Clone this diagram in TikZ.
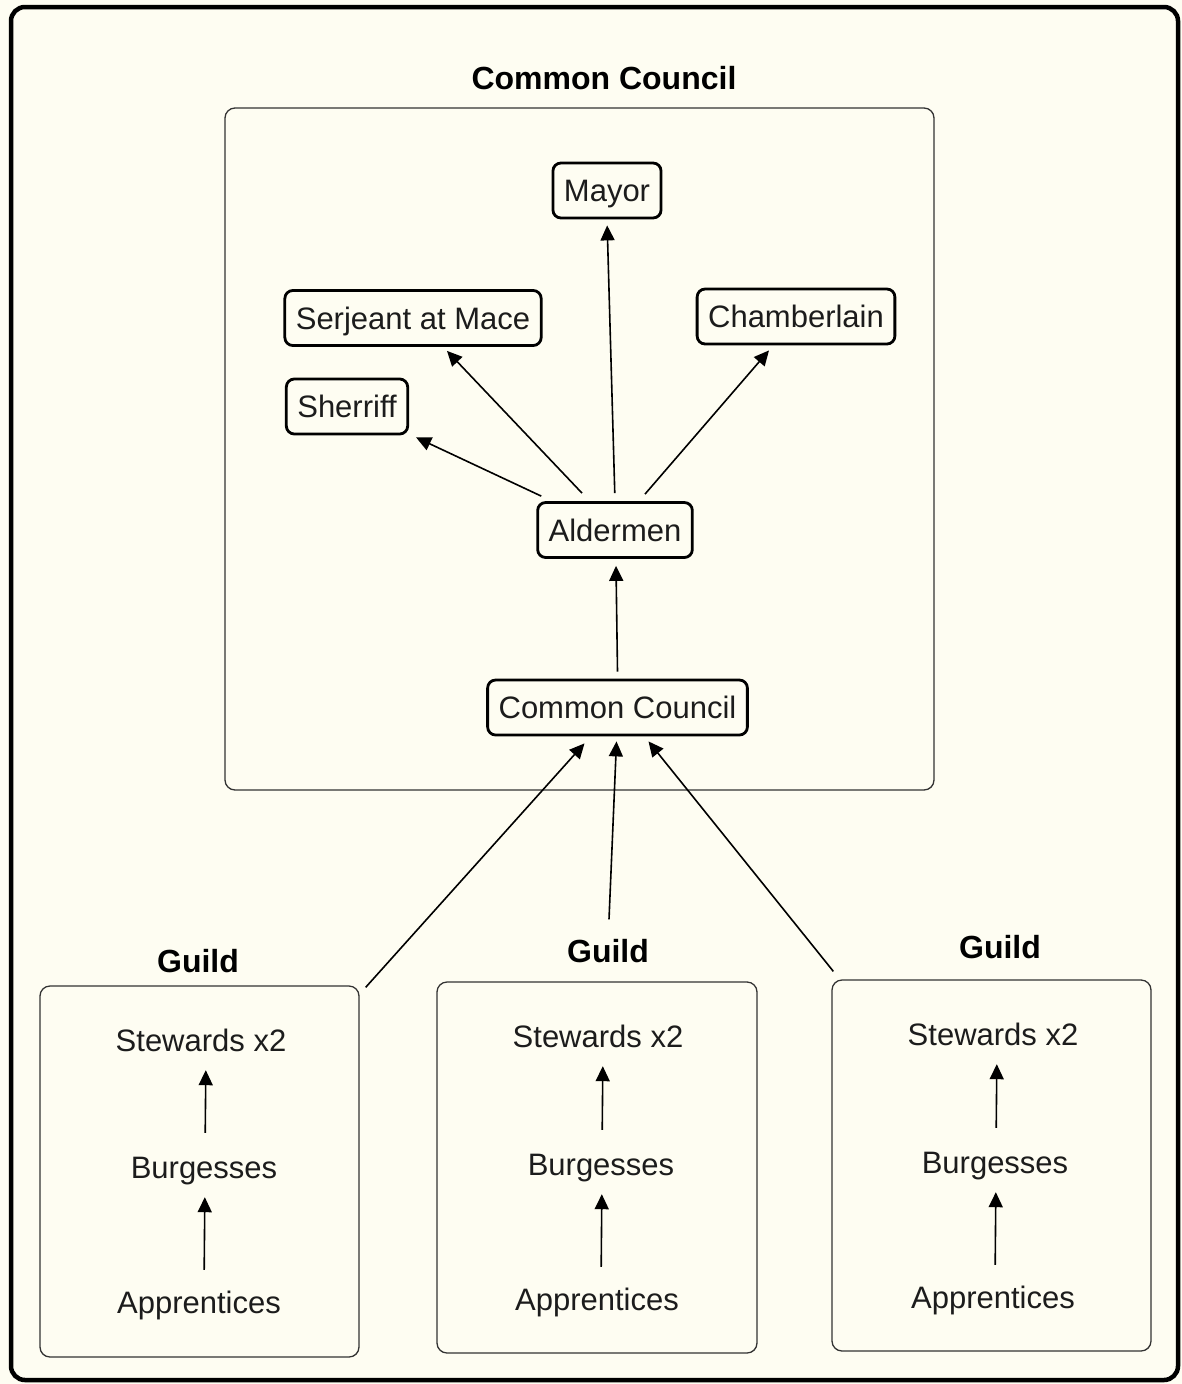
\documentclass[tikz,border=0pt]{standalone}
\usepackage{fontspec}
\setmainfont{Liberation Sans}
\usetikzlibrary{arrows.meta,calc}
\definecolor{paper}{RGB}{254,253,242}
\definecolor{ink}{RGB}{28,28,28}
\begin{document}
\begin{tikzpicture}[x=1pt,y=-1pt,
  role/.style={draw=black, line width=2.8pt, rounded corners=8pt, fill=paper,
    inner xsep=11pt, inner ysep=0pt, text height=22pt, text depth=0pt,
    minimum height=55pt, font=\fontsize{31}{36}\selectfont, text=ink},
  grp/.style={draw=black!80, line width=1.3pt, rounded corners=10pt, inner sep=0pt},
  heading/.style={font=\fontsize{32}{38}\selectfont\bfseries, text=black,
    inner sep=0pt, text height=23pt, text depth=0pt},
  member/.style={font=\fontsize{31}{36}\selectfont, text=ink,
    inner sep=0pt, text height=22pt, text depth=0pt},
  link/.style={draw=black, line width=1.6pt, -{Triangle[length=15pt,width=14pt]}},
]
% page and outer frame
\fill[paper] (0,0) rectangle (1182,1384);
\useasboundingbox (0,0) rectangle (1182,1384);
\draw[line width=4.5pt, rounded corners=14pt] (11,7) rectangle (1178,1380);

% council container
\node[heading] (ctitle) at (604,78) {Common Council};
\node[grp, minimum width=709pt, minimum height=682pt] (council) at (579.5,449) {};

% council roles
\node[role] (mayor) at (607,190.5) {Mayor};
\node[role] (serj)  at (413,318)   {Serjeant at Mace};
\node[role] (cham)  at (796,316.5) {Chamberlain};
\node[role] (sher)  at (347,406.5) {Sherriff};
\node[role] (ald)   at (615,530)   {Aldermen};
\node[role] (cc)    at (617.5,707.5) {Common Council};

\draw[link, shorten <=8pt, shorten >=6pt] (ald.north) -- (mayor.south);
\draw[link] ($(ald.north)+(-33,-8)$) -- ($(serj.south)+(34,4)$);
\draw[link] ($(ald.north west)+(5,-5)$) -- ($(sher.south east)+(7,2)$);
\draw[link] ($(ald.north)+(30,-7)$) -- ($(cham.south)+(-27,5)$);
\draw[link] ($(cc.north)+(0,-7)$) -- ($(ald.south)+(1,7)$);

% guilds
\node[heading] (t1) at (198,961) {Guild};
\node[heading] (t2) at (608,951) {Guild};
\node[heading] (t3) at (1000,947) {Guild};
\node[grp, minimum width=319pt, minimum height=371pt] (g1) at (199.5,1171.5) {};
\node[grp, minimum width=320pt, minimum height=371pt] (g2) at (597,1167.5) {};
\node[grp, minimum width=319pt, minimum height=371pt] (g3) at (991.5,1165.5) {};

\node[member] (s1) at (201,1040) {Stewards x2};
\node[member] (b1) at (204,1167) {Burgesses};
\node[member] (a1) at (199,1302) {Apprentices};
\node[member] (s2) at (598,1036) {Stewards x2};
\node[member] (b2) at (601,1164) {Burgesses};
\node[member] (a2) at (597,1299) {Apprentices};
\node[member] (s3) at (993,1034) {Stewards x2};
\node[member] (b3) at (995,1162) {Burgesses};
\node[member] (a3) at (993,1297) {Apprentices};

\foreach \i in {1,2,3}{
  \draw[link, shorten <=23pt, shorten >=19pt] ($(b\i.north)+(1,0)$) -- ($(b\i.north |- s\i.south)+(2,0)$);
  \draw[link, shorten <=21pt, shorten >=19pt] ($(b\i.north |- a\i.north)$) -- ($(b\i.south)+(1,0)$);
}

% guilds report to the common council
\draw[link] ($(g1.north east)+(6,2)$) -- ($(cc.south)+(-33,7)$);
\draw[link] ($(t2.north)+(1,-20)$) -- ($(cc.south)+(-1,5)$);
\draw[link] ($(g3.north west)+(2,-8)$) -- ($(cc.south)+(31,5)$);
\end{tikzpicture}
\end{document}
